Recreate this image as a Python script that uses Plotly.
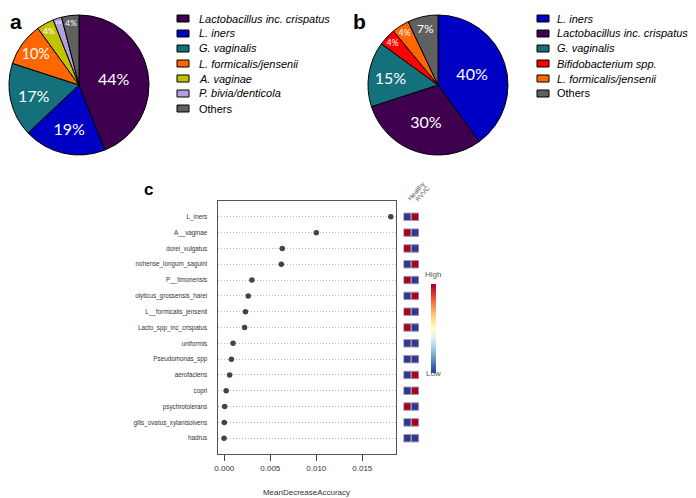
import plotly.graph_objects as go

# panel a / b : pie data
labels_a = ["<i>Lactobacillus inc. crispatus</i>", "<i>L. iners</i>", "<i>G. vaginalis</i>",
            "<i>L. formicalis/jensenii</i>", "<i>A. vaginae</i>", "<i>P. bivia/denticola</i>", "Others"]
values_a = [44, 19, 17, 10, 4, 2, 4]
colors_a = ["#3f0050", "#0000c4", "#14707a", "#ff6600", "#c2c200", "#b3a0e0", "#606060"]

labels_b = ["<i>L. iners</i>", "<i>Lactobacillus inc. crispatus</i>", "<i>G. vaginalis</i>",
            "<i>Bifidobacterium spp.</i>", "<i>L. formicalis/jensenii</i>", "Others"]
values_b = [40, 30, 15, 4, 4, 7]
colors_b = ["#0000c4", "#3f0050", "#14707a", "#ff0000", "#ff6600", "#606060"]

# panel c : variable importance + group heatmap
features = ["L_iners", "A__vaginae", "dorei_vulgatus", "nohense_longum_saguini", "P__timonensis",
            "olyticus_grossensis_harei", "L__formicalis_jensenii", "Lacto_spp_inc_crispatus",
            "uniformis", "Pseudomonas_spp", "aerofaciens", "copri", "psychrotolerans",
            "gilis_ovatus_xylanisolvens", "hadrus"]
mda = [0.0181, 0.0100, 0.0063, 0.0062, 0.0030, 0.0026, 0.0023, 0.0022,
       0.00095, 0.00077, 0.00058, 0.0002, 0.00004, 0.0, -0.00003]
groups = ["Healthy", "RVVC"]
healthy = [0, 1, 1, 0, 1, 0, 1, 1, 0, 0, 0, 0, 1, 0, 0]
rvvc = [1, 0, 0, 1, 0, 1, 0, 0, 0, 0, 1, 1, 0, 1, 0]

# page body has an 8px margin, so the figure is drawn 8px in from the window corner
OFF = 8
W, H = 696 - OFF, 498 - OFF
px = lambda v: (v - OFF) / W
py = lambda v: 1 - (v - OFF) / H

fig = go.Figure()

fig.add_trace(go.Pie(
    labels=labels_a, values=values_a, sort=False, direction="clockwise",
    marker=dict(colors=colors_a, line=dict(color="black", width=1)),
    texttemplate="%{value}%", textposition="inside", insidetextorientation="horizontal",
    textfont=dict(family="Lato", color="white", size=[16, 16, 16, 15, 12, 9, 12]),
    domain=dict(x=[px(9), px(149)], y=[py(156), py(14)]),
    showlegend=False, hoverinfo="label+percent",
))
fig.add_trace(go.Pie(
    labels=labels_b, values=values_b, sort=False, direction="clockwise",
    marker=dict(colors=colors_b, line=dict(color="black", width=1)),
    texttemplate="%{value}%", textposition="inside", insidetextorientation="horizontal",
    textfont=dict(family="Lato", color="white", size=[16, 16, 16, 11, 11, 12]),
    domain=dict(x=[px(368), px(508)], y=[py(156), py(14)]),
    showlegend=False, hoverinfo="label+percent",
))

# dot chart
yidx = list(range(len(features)))
fig.add_trace(go.Scatter(
    x=mda, y=yidx, mode="markers", xaxis="x", yaxis="y",
    marker=dict(size=5.5, color="#444444"), showlegend=False,
))

# group squares
sq_x, sq_y, sq_c = [], [], []
for i in yidx:
    sq_x += [0, 1]
    sq_y += [i, i]
    sq_c += [healthy[i], rvvc[i]]
fig.add_trace(go.Scatter(
    x=sq_x, y=sq_y, mode="markers", xaxis="x2", yaxis="y2", showlegend=False,
    marker=dict(symbol="square", size=7.5, color=sq_c, cmin=0, cmax=1,
                colorscale="RdYlBu", reversescale=True,
                line=dict(color="#a0a0a0", width=1),
                showscale=True,
                colorbar=dict(x=px(430.5), xanchor="left", y=py(328), yanchor="middle",
                              thickness=5, len=89, lenmode="pixels", xpad=0, ypad=0,
                              outlinewidth=0, showticklabels=False, ticks="")),
))

yr = [15.0, -1.0]
fig.update_layout(
    template="none",
    width=W, height=H, margin=dict(l=0, r=0, t=0, b=0, autoexpand=False),
    paper_bgcolor="white", plot_bgcolor="white", showlegend=False,
    font=dict(family="Liberation Sans, Arial", color="#333"),
    xaxis=dict(domain=[px(217.5), px(395.5)], range=[-0.00074, 0.01861],
               tickvals=[0, 0.005, 0.010, 0.015], tickformat=".3f",
               ticks="outside", ticklen=6, tickcolor="#444", showgrid=False, zeroline=False,
               showline=True, mirror=True, linecolor="#555", linewidth=1,
               tickfont=dict(size=8, color="#333"), anchor="y",
               title=dict(text="MeanDecreaseAccuracy", font=dict(size=8, color="#333"), standoff=17)),
    yaxis=dict(domain=[py(454), py(201)], range=yr, tickvals=yidx, ticktext=features,
               ticks="", showgrid=True, gridcolor="#b8b8b8", griddash="1px,2px", gridwidth=1,
               zeroline=False, showline=True, mirror=True, linecolor="#555", linewidth=1,
               tickfont=dict(size=6.3, color="#333"), ticklabelstandoff=8, anchor="x"),
    xaxis2=dict(domain=[px(403.5), px(418.9)], range=[-0.5, 1.5], visible=False, anchor="y2"),
    yaxis2=dict(domain=[py(454), py(201)], range=yr, visible=False, anchor="x2"),
)

# pie legends
def add_legend(labels, colors, x_box, x_text):
    for i, (lab, col) in enumerate(zip(labels, colors)):
        yc = 18.5 + 15 * i
        fig.add_shape(type="rect", xref="paper", yref="paper",
                      x0=px(x_box), x1=px(x_box + 12), y0=py(yc + 3.5), y1=py(yc - 3.5),
                      fillcolor=col, line=dict(color="black", width=1))
        fig.add_annotation(text=lab, x=px(x_text), y=py(yc), xref="paper", yref="paper",
                           xanchor="left", yanchor="middle", showarrow=False,
                           font=dict(family="Liberation Sans, Arial", size=11, color="black"))

add_legend(labels_a, colors_a, 177, 197)
add_legend(labels_b, colors_b, 537, 555)

# panel letters
for letter, x, y, sz in [("a", 8, 8, 21), ("b", 351, 8, 21), ("c", 142, 178, 17)]:
    fig.add_annotation(text="<b>%s</b>" % letter, x=px(x), y=py(y), xref="paper", yref="paper",
                       xanchor="left", yanchor="top", showarrow=False,
                       font=dict(family="Liberation Sans, Arial", size=sz, color="black"))

# group header labels
for j, g in enumerate(groups):
    fig.add_annotation(text=g, x=j, y=py(205), xref="x2", yref="paper", xanchor="left",
                       yanchor="bottom", xshift=-4, textangle=-50, showarrow=False,
                       font=dict(size=6.5, color="#555"))

fig.add_annotation(text="High", x=px(433), y=py(274), xref="paper", yref="paper",
                   showarrow=False, font=dict(size=8, color="#555"))
fig.add_annotation(text="Low", x=px(433), y=py(380), xref="paper", yref="paper",
                   showarrow=False, font=dict(size=8, color="#555"))

fig.write_html("out.html")
